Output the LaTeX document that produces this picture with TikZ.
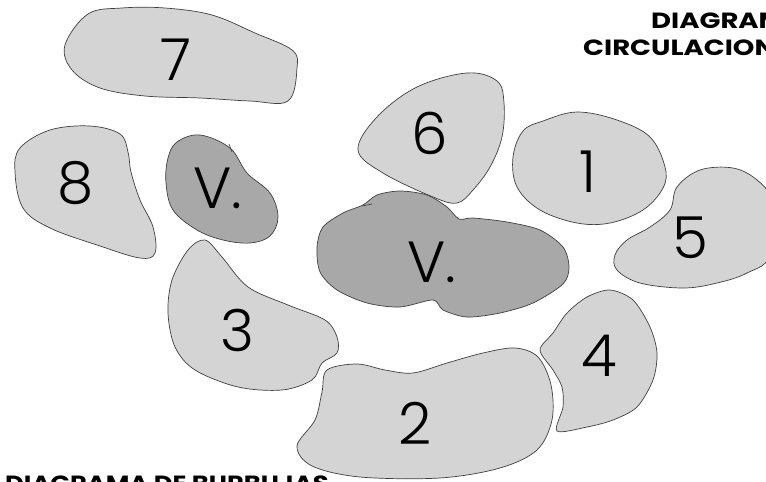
\documentclass[tikz,border=0pt]{standalone}
\usepackage{graphicx}
\usepackage{fontspec}
\setmainfont{Poppins}
\newfontfamily\numfont{Poppins Light}
\begin{document}
\begin{tikzpicture}[x=1pt,y=-1pt,
  bubble/.style={draw=black!75,line width=0.7pt,fill=light},
  vbubble/.style={draw=black!75,line width=0.7pt,fill=dark},
  num/.style={font=\numfont\fontsize{58}{58}\selectfont,text=black,inner sep=0pt},
  title/.style={font=\bfseries\fontsize{22}{22}\selectfont,text=black,inner sep=0pt,anchor=base west}]
\definecolor{light}{gray}{0.83}
\definecolor{dark}{gray}{0.66}
\useasboundingbox (0,0) rectangle (766,482);
\clip (0,0) rectangle (766,482);
\fill[white] (0,0) rectangle (766,482);
% 7
\draw[bubble] plot[smooth cycle,tension=0.6] coordinates {(65,45) (88,14) (122,8) (165,8) (212,15) (255,33) (292,50) (297,68) (288,101) (250,101) (200,98) (145,96) (100,88) (72,70)};
% 8
\draw[bubble] plot[smooth cycle,tension=0.6] coordinates {(20,148) (50,130) (90,126) (120,134) (128,152) (131,172) (140,200) (153,227) (155,253) (140,258) (100,246) (50,228) (23,208) (15,172)};
% small V
\draw[vbubble] plot[smooth cycle,tension=0.6] coordinates {(177,142) (200,135) (230,148) (247,173) (270,193) (278,217) (270,236) (250,243) (223,240) (197,230) (173,210) (166,183) (168,158)};
\draw[black!75,line width=0.6pt] (229,144) -- (232,152);
% 3
\draw[bubble] plot[smooth cycle,tension=0.55] coordinates {(205,240) (222,257) (248,287) (288,305) (325,320) (337,337) (337,353) (322,363) (312,380) (282,390) (238,387) (195,370) (175,347) (168,313) (172,280) (188,250)};
% 6
\draw[bubble] plot[smooth cycle,tension=0.6] coordinates {(377,117) (417,87) (467,73) (497,81) (504,103) (502,137) (490,167) (473,190) (457,203) (433,197) (383,173) (358,150)};
% 1
\draw[bubble] plot[smooth cycle,tension=0.6] coordinates {(513,157) (523,131) (543,121) (577,112) (617,120) (650,137) (665,167) (663,188) (643,210) (610,223) (577,223) (540,210) (517,187)};
% 5
\draw[bubble] plot[smooth cycle,tension=0.6] coordinates {(677,187) (700,170) (733,168) (757,180) (770,200) (770,255) (747,273) (717,283) (683,288) (640,283) (617,270) (615,255) (627,240) (650,227) (670,210)};
% big V
\draw[vbubble] plot[smooth cycle,tension=0.5] coordinates {(317,247) (323,227) (343,213) (363,205) (377,195) (400,191) (427,195) (447,207) (459,219) (473,218) (507,222) (540,230) (563,247) (569,267) (563,284) (533,303) (500,313) (467,317) (443,310) (433,300) (400,307) (367,303) (337,290) (320,272)};
\draw[black!75,line width=0.6pt] (362,206) -- (372,204);
% 4
\draw[bubble] plot[smooth cycle,tension=0.5] coordinates {(540,350) (553,333) (567,313) (587,297) (610,290) (633,300) (650,327) (657,353) (653,380) (637,407) (613,420) (587,427) (557,431) (563,407) (562,387) (553,370)};
% 2
\draw[bubble] plot[smooth cycle,tension=0.55] coordinates {(327,370) (357,364) (385,370) (413,373) (447,363) (483,353) (515,348) (538,357) (551,385) (552,420) (537,450) (500,468) (440,478) (360,477) (312,466) (297,446) (315,420) (322,392)};
% labels
\node[num] (n7) at (176,60) {7};
\node[num] (n8) at (76,183) {8};
\node[num] (v1) at (218,188) {V.};
\node[num] (n3) at (237,330) {3};
\node[num] (n6) at (430,133) {6};
\node[num] (n1) at (588,172) {1};
\node[num] (n5) at (690,238) {5};
\node[num] (v2) at (432,262) {V.};
\node[num] (n4) at (599,356) {4};
\node[num] (n2) at (415,423) {2};
\node[title] (t1) at (651,28) {\scalebox{1.25}[1]{DIAGRAMA}};
\node[title] (t2) at (583,55) {\scalebox{1.25}[1]{CIRCULACIONES}};
\node[title] (t3) at (5,491) {\scalebox{1.17}[1]{DIAGRAMA DE BURBUJAS}};
\end{tikzpicture}
\end{document}
